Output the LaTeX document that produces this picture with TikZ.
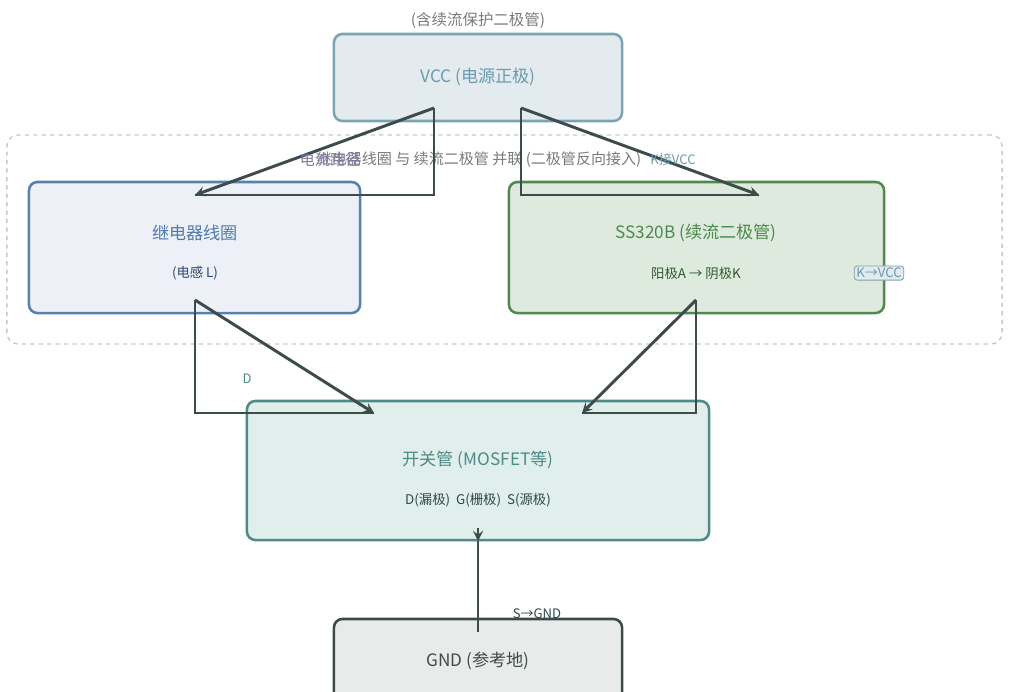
\documentclass[tikz,border=0pt]{standalone}
\usepackage{fontspec}
\setmainfont{Noto Sans CJK SC}
\usetikzlibrary{shapes, arrows, positioning}
\definecolor{vccfill}{HTML}{E3EBEF}
\definecolor{vccdraw}{HTML}{7BA3B3}
\definecolor{vcctext}{HTML}{6A9AAE}
\definecolor{coilfill}{HTML}{EDF1F7}
\definecolor{coildraw}{HTML}{5580B0}
\definecolor{coiltext}{HTML}{4F7AAE}
\definecolor{coilsub}{HTML}{2F4A6E}
\definecolor{diodefill}{HTML}{DFEADF}
\definecolor{diodedraw}{HTML}{4E8A4E}
\definecolor{diodetext}{HTML}{4A8A4A}
\definecolor{diodesub}{HTML}{2E5A2E}
\definecolor{mosfill}{HTML}{E0EEEC}
\definecolor{mosdraw}{HTML}{4E8A86}
\definecolor{mossub}{HTML}{2E4A48}
\definecolor{gndfill}{HTML}{E9EBEB}
\definecolor{gnddraw}{HTML}{3E4A4A}
\definecolor{wire}{HTML}{3E4B4B}
\definecolor{notegray}{HTML}{7A7A7A}
\definecolor{pathnote}{HTML}{8078A0}
\tikzstyle{block} = [rectangle, rounded corners=6pt, line width=1.8pt, inner sep=0pt]
\tikzstyle{title} = [font=\fontsize{12.2}{14}\selectfont]
\tikzstyle{sub} = [font=\fontsize{9.5}{11}\selectfont]
\tikzstyle{note} = [font=\fontsize{9.3}{10}\selectfont]
\tikzstyle{arrow} = [line width=2.1pt, draw=wire, ->, >=stealth]
\tikzstyle{wireline} = [line width=2.1pt, draw=wire]

\begin{document}
\begin{tikzpicture}[x=0.025cm, y=-0.025cm]
\useasboundingbox (0,0) rectangle (1016,691);

% Group
\node (group) [rectangle, rounded corners=8pt, draw=black!22, dashed, line width=1pt, minimum width=24.875cm, minimum height=5.225cm] at (504.5,239.5) {};
\node (grouplabel) [font=\fontsize{10.7}{12}\selectfont, text=notegray] at (479,160) {继电器线圈 与 续流二极管 并联 (二极管反向接入)};

% Nodes
\node (vcc) [block, fill=vccfill, draw=vccdraw, minimum width=7.2cm, minimum height=2.175cm] at (478,77.5) {};
\node (vcctitle) [title, text=vcctext] at (478,77) {VCC (电源正极)};
\node (vccnote) [font=\fontsize{11}{12}\selectfont, text=notegray] at (478,20) {(含续流保护二极管)};

\node (coil) [block, fill=coilfill, draw=coildraw, minimum width=8.275cm, minimum height=3.275cm] at (194.5,247.5) {};
\node (coiltitle) [title, text=coiltext] at (195,233) {继电器线圈};
\node (coilsub) [sub, text=coilsub] at (195,273) {(电感 L)};

\node (diode) [block, fill=diodefill, draw=diodedraw, minimum width=9.375cm, minimum height=3.275cm] at (696.5,247.5) {};
\node (diodetitle) [title, text=diodetext] at (696,233) {SS320B (续流二极管)};
\node (diodesub) [sub, text=diodesub] at (696,273) {阳极A → 阴极K};

\node (mos) [block, fill=mosfill, draw=mosdraw, minimum width=11.55cm, minimum height=3.475cm] at (478,470.5) {};
\node (mostitle) [title, text=mosdraw] at (478,460) {开关管 (MOSFET等)};
\node (mossub) [sub, text=mossub] at (478,500) {D(漏极)\ \ G(栅极)\ \ S(源极)};

\node (gnd) [block, fill=gndfill, draw=gnddraw, minimum width=7.2cm, minimum height=2.125cm] at (478,661.5) {};
\node (gndtitle) [title, text=gnddraw] at (478,661) {GND (参考地)};

% Wire ends
\coordinate (vccl) at (434,108);
\coordinate (vccr) at (521,108);
\coordinate (coilin) at (195,195);
\coordinate (diodein) at (759,195);
\coordinate (coilout) at (195,300);
\coordinate (diodeout) at (696,300);
\coordinate (mosinl) at (374,413);
\coordinate (mosinr) at (582,413);
\coordinate (mosout) at (478,528);
\coordinate (mostip) at (478,541);
\coordinate (gndin) at (478,632);

% Arrows
\draw [wireline] (vccl) |- (coilin);
\draw [arrow] (vccl) -- (coilin);
\draw [wireline] (vccr) |- (diodein);
\draw [arrow] (vccr) -- (diodein);
\draw [wireline] (coilout) |- (mosinl);
\draw [arrow] (coilout) -- (mosinl);
\draw [wireline] (diodeout) |- (mosinr);
\draw [arrow] (diodeout) -- (mosinr);
\draw [arrow] (mosout) -- (mostip);
\draw [wireline] (mostip) -- (gndin);

% Labels
\node (pathlabel) [font=\fontsize{10.7}{12}\selectfont, text=pathnote] at (330,160) {电流路径};
\node (klabel) [note, text=vcctext] at (673,160) {K接VCC};
\node (kvcc) [note, text=vcctext, fill=vccfill, draw=vccdraw, rounded corners=2pt, line width=0.6pt, inner sep=1.5pt] at (879,273) {K→VCC};
\node (dlabel) [note, text=mosdraw] at (247,379) {D};
\node (slabel) [note, text=mossub] at (537,614) {S→GND};

\end{tikzpicture}
\end{document}
